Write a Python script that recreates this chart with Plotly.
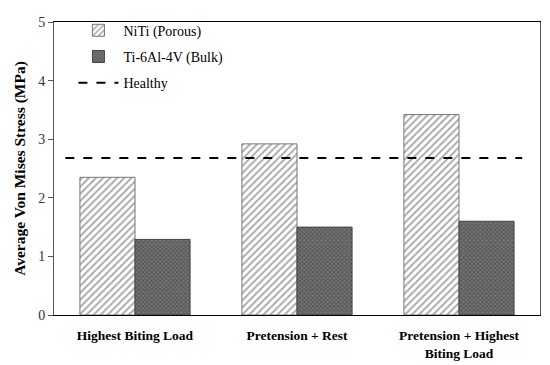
import plotly.graph_objects as go

categories = ["Highest Biting Load", "Pretension + Rest", "Pretension + Highest<br>Biting Load"]
niti = [2.35, 2.92, 3.42]
ti64 = [1.29, 1.50, 1.60]
healthy = 2.68
healthy_span = [-0.43, 2.39]

xpos = list(range(len(categories)))
font_fam = "Liberation Serif, DejaVu Serif, serif"

fig = go.Figure()
fig.add_trace(go.Bar(
    x=xpos, y=niti, name="NiTi (Porous)", legendgroup="a",
    marker=dict(color="white", line=dict(color="#777", width=1),
                pattern=dict(shape="/", fgcolor="#555", bgcolor="white", size=5, solidity=0.4)),
))
fig.add_trace(go.Bar(
    x=xpos, y=ti64, name="Ti-6Al-4V (Bulk)", legendgroup="b",
    marker=dict(color="#555", line=dict(color="#444", width=1),
                pattern=dict(shape="x", fgcolor="#333", bgcolor="#777", size=3, solidity=0.5)),
))
fig.add_trace(go.Scatter(
    x=healthy_span, y=[healthy, healthy], mode="lines", name="Healthy", legendgroup="c",
    line=dict(color="black", width=2, dash="dash"),
))

fig.update_layout(
    width=542, height=357,
    margin=dict(l=46, r=10, t=7, b=50),
    paper_bgcolor="white", plot_bgcolor="white",
    bargap=0.32, bargroupgap=0,
    font=dict(family=font_fam, size=14, color="black"),
    showlegend=True,
    legend=dict(x=0.04, y=1.025, xanchor="left", yanchor="top",
                bgcolor="rgba(0,0,0,0)", font=dict(size=14, family=font_fam),
                tracegroupgap=5, itemwidth=40),
    xaxis=dict(range=[-0.5, 2.5], tickmode="array", tickvals=xpos,
               ticktext=["<b>" + c.replace("<br>", "</b><br><b>") + "</b>" for c in categories],
               showline=True, linecolor="black", linewidth=1, mirror=True,
               ticks="", showgrid=False, zeroline=False, ticklabelstandoff=8,
               automargin=False,
               tickfont=dict(size=13.5, family=font_fam)),
    yaxis=dict(range=[0, 5], dtick=1, showline=True, linecolor="#555", linewidth=1,
               mirror=True, ticks="outside", ticklen=5, tickcolor="#555",
               showgrid=False, zeroline=False,
               title=dict(text="<b>Average Von Mises Stress (MPa)</b>", font=dict(size=15.5, family=font_fam), standoff=8),
               tickfont=dict(size=14, family=font_fam, color="#333")),
)

fig.write_html("out.html")
